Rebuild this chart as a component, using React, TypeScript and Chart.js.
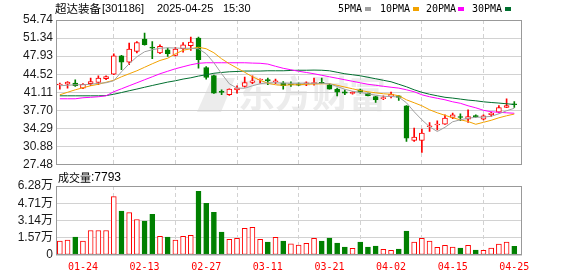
import React, { useEffect, useRef } from 'react';
import { Chart, registerables } from 'chart.js';

Chart.register(...registerables);

// ---- data ----
const opens = [42.50,42.68,42.87,41.92,42.73,42.98,43.68,44.56,48.01,46.82,
48.82,51.15,49.50,48.52,49.14,48.06,49.33,49.89,51.34,45.80,
44.30,41.15,40.66,41.60,42.23,42.98,43.45,43.38,43.12,42.87,
42.73,42.73,42.73,42.73,42.92,42.55,41.74,41.23,40.91,41.60,
40.98,40.34,39.91,40.34,40.47,38.59,32.06,32.06,34.65,34.98,
35.14,36.39,36.42,36.09,36.76,36.09,36.90,37.40,38.27,38.82];

const highs = [42.87,43.17,43.49,42.75,43.81,44.24,44.24,48.38,48.10,50.40,
50.70,52.28,50.70,50.08,49.46,49.60,50.51,51.53,51.53,45.99,
44.35,41.60,41.80,42.36,44.00,44.24,43.68,43.81,43.62,43.17,
43.11,42.92,43.11,43.81,43.81,42.73,41.92,41.60,41.28,41.74,
41.00,40.36,40.47,41.17,40.50,38.62,34.39,34.20,35.45,35.77,
36.90,37.22,37.08,37.84,36.90,36.90,37.40,38.65,39.91,39.40];

const lows = [41.74,41.92,42.23,41.80,42.36,42.55,43.49,44.43,45.37,46.31,
48.52,50.00,47.44,48.38,47.87,48.00,48.70,49.00,45.69,43.62,
40.90,40.66,40.55,40.98,42.11,42.73,42.87,42.55,42.73,41.74,
42.23,42.36,42.36,42.49,42.73,41.70,40.47,40.66,40.79,40.98,
40.45,39.21,39.72,40.05,39.59,31.87,31.87,29.80,33.75,34.07,
35.10,36.15,35.77,35.45,36.39,35.95,36.58,37.27,38.25,38.27];

const closes = [42.55,43.05,42.36,42.62,43.17,43.81,44.11,48.01,46.82,49.27,
50.51,50.08,49.46,49.76,48.38,49.27,50.08,50.59,47.25,43.92,
40.98,41.10,41.74,41.92,42.98,43.30,43.49,43.34,43.17,42.36,
42.55,42.49,42.92,42.98,42.80,41.74,41.17,40.98,41.10,41.17,
40.47,39.72,40.15,40.79,40.15,32.51,32.70,33.45,34.69,35.01,
36.27,36.90,36.39,36.58,36.52,36.71,37.22,38.27,38.65,38.78];

const ma5 = [42.36,42.45,42.55,42.55,42.64,42.83,42.92,43.30,44.99,46.50,
47.82,48.76,49.14,49.42,49.51,49.46,49.42,49.42,49.33,48.38,
46.69,44.62,42.73,41.92,41.89,42.36,42.73,42.92,42.92,42.87,
42.83,42.83,42.83,42.83,42.83,42.73,42.23,41.70,41.32,41.10,
40.85,40.57,40.38,40.34,40.23,39.16,37.46,35.95,34.64,33.75,
34.54,35.58,35.95,36.24,36.43,36.46,36.61,37.08,37.65,38.12];

const ma10 = [40.66,41.13,41.60,41.98,42.36,42.64,43.02,43.39,44.05,44.62,
45.18,45.84,46.50,47.12,47.54,48.38,49.04,49.33,49.61,49.33,
48.57,47.44,46.50,45.69,44.90,44.05,43.39,42.83,42.55,42.45,
42.55,42.55,42.64,42.68,42.73,42.73,42.45,42.11,41.79,41.47,
41.23,41.04,40.85,40.76,40.47,39.72,39.16,38.59,37.84,37.27,
36.80,36.33,35.95,35.63,35.11,35.48,35.86,36.33,36.71,37.03];

const ma20 = [39.91,39.91,39.91,40.10,40.19,40.29,40.47,41.23,41.79,42.36,
42.92,43.49,44.05,44.62,45.09,45.56,45.94,46.31,46.59,46.69,
46.69,46.69,46.69,46.69,46.69,46.63,46.59,46.44,46.03,45.65,
45.37,45.09,44.86,44.62,44.33,44.05,43.77,43.49,43.20,42.92,
42.64,42.45,42.26,42.08,41.92,41.60,41.23,40.66,40.29,40.00,
39.72,39.34,39.06,38.59,38.21,37.74,37.46,37.37,37.27,37.18];

const ma30 = [40.47,40.47,40.47,40.47,40.47,40.47,40.51,40.76,41.08,41.42,
41.74,42.08,42.41,42.73,43.05,43.30,43.62,43.86,44.18,44.43,
44.71,44.86,44.99,45.05,45.13,45.13,45.13,45.18,45.18,45.18,
45.24,45.28,45.28,45.31,45.28,45.18,44.90,44.62,44.43,44.24,
43.96,43.68,43.39,43.11,42.64,42.17,41.60,41.13,40.76,40.47,
40.19,40.04,39.85,39.66,39.53,39.34,39.21,39.10,38.97,38.84];

// volume in 万 (10k shares)
const volumes = [1.27,1.36,1.63,1.27,2.23,2.23,2.23,5.31,3.99,3.86,
3.23,3.08,3.71,1.69,1.63,1.36,1.69,1.78,5.80,4.71,
3.89,2.08,1.42,1.51,2.42,2.51,1.42,1.18,1.60,1.27,
1.02,0.91,1.06,1.51,1.27,1.54,1.09,0.72,0.60,1.18,
0.72,0.82,0.51,0.42,0.54,2.17,1.18,1.51,1.27,0.69,
0.88,0.72,0.63,0.88,0.45,0.42,0.63,1.00,1.18,0.7793];

// 1 = red (up) volume bar, 0 = green
const volUp = [1,1,0,1,1,1,1,1,0,1,
1,0,0,1,0,1,1,1,0,0,
0,0,1,1,1,1,1,0,1,0,
1,1,1,1,0,0,0,0,1,0,
0,0,1,1,0,0,1,1,1,1,
1,1,0,1,0,1,1,1,1,0];

const priceTicks = ['27.48','30.88','34.29','37.70','41.11','44.52','47.93','51.34','54.74'];
const volTicks = ['0','1.57万','3.14万','4.71万','6.28万'];
const volTickValues = [0, 1.57, 3.14, 4.71, 6.28];
const dateTicks = ['01-24','02-13','02-27','03-11','03-21','04-02','04-15','04-25'];
const FIRST_TICK = 3;
const TICK_STEP = 8;
const lastVolume = '7793';

// ---- styles ----
const UP = '#ff0000';
const DOWN = '#008000';
const FRAME = '#999999';
const GRID = '#d2d2d2';
const MA_COLORS = ['#a0a0a0', '#f2a200', '#ff00ff', '#006f2f'];
const MA_NAMES = ['5PMA', '10PMA', '20PMA', '30PMA'];

const N = closes.length;
const xTickValues = dateTicks.map((_, k) => FIRST_TICK + k * TICK_STEP);

const framePlugin = {
  id: 'frame',
  afterDraw(chart: any) {
    const { ctx, chartArea: a } = chart;
    ctx.save();
    ctx.strokeStyle = FRAME;
    ctx.lineWidth = 1;
    ctx.strokeRect(Math.round(a.left) + 0.5, Math.round(a.top) + 0.5,
      Math.round(a.right - a.left) - 1, Math.round(a.bottom - a.top) - 1);
    ctx.restore();
  },
};

const watermarkPlugin = {
  id: 'watermark',
  beforeDraw(chart: any) {
    const { ctx } = chart;
    ctx.save();
    ctx.fillStyle = '#ececec';
    ctx.beginPath();
    ctx.moveTo(212, 78);
    ctx.lineTo(235, 78);
    ctx.lineTo(221, 112);
    ctx.lineTo(197, 112);
    ctx.closePath();
    ctx.fill();
    ctx.font = 'bold 37px "Noto Sans CJK SC"';
    ctx.textBaseline = 'middle';
    ctx.fillText('东方财富', 238, 94);
    ctx.restore();
  },
};

function xScale(showLabels: boolean) {
  return {
    type: 'linear',
    min: -0.5,
    max: N,
    offset: false,
    afterBuildTicks: (s: any) => { s.ticks = xTickValues.map((v) => ({ value: v })); },
    grid: { color: GRID, drawTicks: false },
    border: { display: false, dash: [4, 3] },
    ticks: showLabels
      ? {
          display: true,
          autoSkip: false,
          maxRotation: 0,
          padding: 6,
          color: '#ff0000',
          font: { family: '"DejaVu Sans Mono", monospace', size: 10 },
          callback: (_v: any, i: number) => dateTicks[i],
        }
      : { display: false },
  };
}

export default function App() {
  const priceRef = useRef<HTMLCanvasElement>(null);
  const volRef = useRef<HTMLCanvasElement>(null);

  useEffect(() => {
    const isUp = closes.map((c, i) => c >= opens[i]);
    const candleColor = isUp.map((u) => (u ? UP : DOWN));

    const price = new Chart(priceRef.current as HTMLCanvasElement, {
      type: 'bar',
      data: {
        datasets: [
          ...[ma5, ma10, ma20, ma30].map((ma, k) => ({
            type: 'line',
            label: MA_NAMES[k],
            data: ma.map((v, i) => ({ x: i, y: v })),
            borderColor: MA_COLORS[k],
            borderWidth: 1,
            pointRadius: 0,
            tension: 0,
            fill: false,
            order: 0,
          })),
          {
            type: 'bar',
            label: 'body',
            data: opens.map((o, i) => ({ x: i, y: [o, closes[i]] })),
            backgroundColor: isUp.map((u) => (u ? '#ffffff' : DOWN)),
            borderColor: candleColor,
            borderWidth: 1,
            borderSkipped: false,
            barThickness: 5,
            minBarLength: 1,
            grouped: false,
            order: 1,
          },
          {
            type: 'bar',
            label: 'wick',
            data: lows.map((l, i) => ({ x: i, y: [l, highs[i]] })),
            backgroundColor: candleColor,
            borderWidth: 0,
            barThickness: 1,
            grouped: false,
            order: 2,
          },
        ] as any,
      },
      options: {
        responsive: false,
        animation: false,
        events: [],
        layout: { padding: { left: 0, top: 20, right: 56, bottom: 0 } },
        plugins: { legend: { display: false }, tooltip: { enabled: false } },
        scales: {
          x: xScale(false) as any,
          y: {
            min: 27.48,
            max: 54.74,
            afterBuildTicks: (s: any) => { s.ticks = priceTicks.map((t) => ({ value: parseFloat(t) })); },
            afterFit: (s: any) => { s.width = 56; },
            grid: { color: GRID, tickLength: 3, tickColor: 'rgba(0,0,0,0)' },
            border: { display: false },
            ticks: {
              autoSkip: false,
              padding: 0,
              color: '#1a1a1a',
              font: { family: '"Liberation Sans", Arial, sans-serif', size: 12 },
              callback: (_v: any, i: number) => priceTicks[i],
            },
          },
        },
      } as any,
      plugins: [watermarkPlugin, framePlugin],
    });

    const vol = new Chart(volRef.current as HTMLCanvasElement, {
      type: 'bar',
      data: {
        datasets: [
          {
            label: 'volume',
            data: volumes.map((v, i) => ({ x: i, y: v })),
            backgroundColor: volUp.map((u) => (u ? '#ffffff' : DOWN)),
            borderColor: volUp.map((u) => (u ? UP : DOWN)),
            borderWidth: 1,
            borderSkipped: false,
            barThickness: 5,
          },
        ] as any,
      },
      options: {
        responsive: false,
        animation: false,
        events: [],
        layout: { padding: { left: 0, top: 16, right: 56, bottom: 0 } },
        plugins: { legend: { display: false }, tooltip: { enabled: false } },
        scales: {
          x: xScale(true) as any,
          y: {
            min: 0,
            max: 6.28,
            afterBuildTicks: (s: any) => { s.ticks = volTickValues.map((v) => ({ value: v })); },
            afterFit: (s: any) => { s.width = 56; },
            grid: { color: GRID, tickLength: 3, tickColor: 'rgba(0,0,0,0)' },
            border: { display: false },
            ticks: {
              autoSkip: false,
              padding: 0,
              color: '#1a1a1a',
              font: { family: '"Liberation Sans", "Noto Sans CJK SC", sans-serif', size: 12 },
              callback: (_v: any, i: number) => volTicks[i],
            },
          },
        },
      } as any,
      plugins: [framePlugin],
    });

    return () => {
      price.destroy();
      vol.destroy();
    };
  }, []);

  const cjk = '"Noto Sans CJK SC", sans-serif';
  const sans = '"Liberation Sans", Arial, sans-serif';
  const mono = '"DejaVu Sans Mono", monospace';
  const txt = (left: number, top: number, font: string, size: number, text: string, color = '#000') => (
    <div
      style={{
        position: 'absolute', left, top, height: 17, lineHeight: '17px',
        fontFamily: font, fontSize: size, color, whiteSpace: 'pre',
      }}
    >
      {text}
    </div>
  );
  const legendLeft = [338, 380, 426, 472];
  const squareLeft = [365, 413, 458, 505];

  return (
    <div style={{ position: 'absolute', left: 0, top: 0, width: 578, height: 276, background: '#fff', overflow: 'hidden' }}>
      <canvas ref={priceRef} width={578} height={172} style={{ position: 'absolute', left: 0, top: 0, display: 'block' }} />
      <canvas ref={volRef} width={578} height={109} style={{ position: 'absolute', left: 0, top: 170, display: 'block' }} />
      {txt(55, 0, cjk, 11.5, '超达装备')}
      {txt(102, 0, sans, 11, '[301186]')}
      {txt(157, 0, sans, 11, '2025-04-25')}
      {txt(223, 0, sans, 11, '15:30')}
      {MA_NAMES.map((n, k) => (
        <React.Fragment key={n}>
          {txt(legendLeft[k], 0, mono, 10, n)}
          <div style={{ position: 'absolute', left: squareLeft[k], top: 7, width: 6, height: 4, background: MA_COLORS[k] }} />
        </React.Fragment>
      ))}
      {txt(58, 169, cjk, 11, '成交量')}
      {txt(91, 169, sans, 12, ':' + lastVolume)}
    </div>
  );
}
